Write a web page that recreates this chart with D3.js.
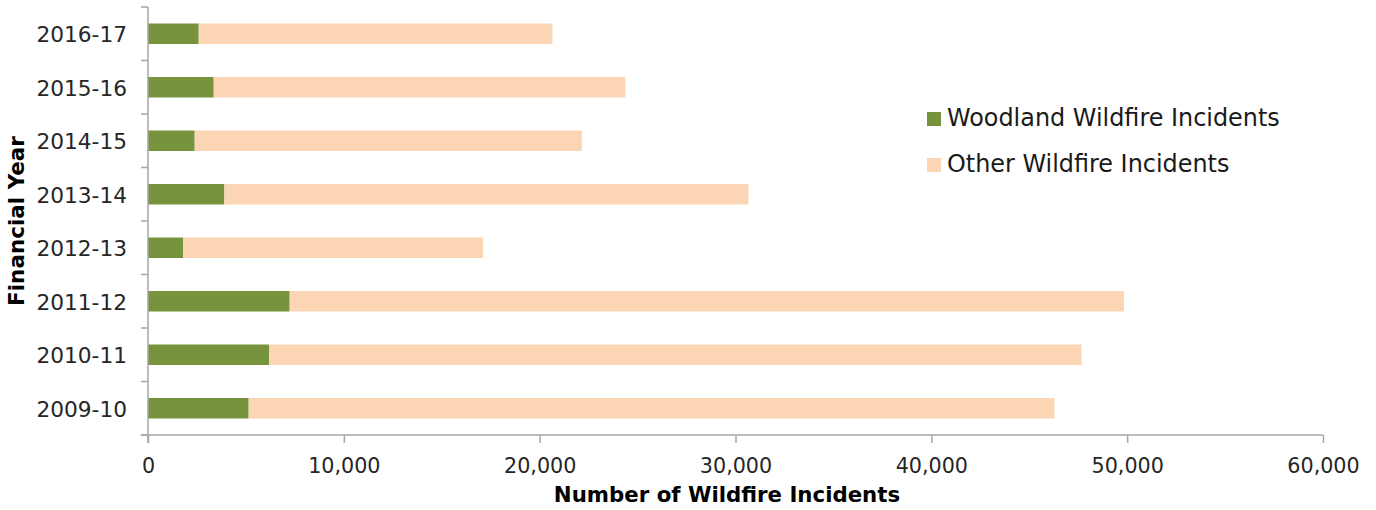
<!DOCTYPE html>
<style>
body { margin: 0; background: #fff; }
svg { font-family: "DejaVu Sans", Verdana, sans-serif; }
</style>
<svg width="1376" height="510"></svg>
<script src="https://d3js.org/d3.v7.min.js"></script>
<script>

// data
var years = ["2009-10", "2010-11", "2011-12", "2012-13", "2013-14", "2014-15", "2015-16", "2016-17"];
var woodland = [5140, 6180, 7235, 1800, 3900, 2385, 3355, 2590];
var other = [41150, 41490, 42600, 15310, 26760, 19770, 21020, 18060];
var seriesNames = ["Woodland Wildfire Incidents", "Other Wildfire Incidents"];
var xTicks = [0, 10000, 20000, 30000, 40000, 50000, 60000];

var colors = ["#77933c", "#fcd5b5"];
var axisColor = "#a6a6a6";

var svg = d3.select("svg");

var rows = years.map(function(y, i) {
  return { year: y, woodland: woodland[i], other: other[i] };
});

var x = d3.scaleLinear().domain([0, 60000]).range([148, 1323]);
var y = d3.scaleBand()
    .domain(years.slice().reverse())
    .range([7, 435])
    .paddingInner(0.617)
    .paddingOuter(0.3085);

var stack = d3.stack().keys(["woodland", "other"]);
var layers = stack(rows);

// bars
svg.append("g").selectAll("g")
    .data(layers)
  .enter().append("g")
    .attr("fill", function(d, i) { return colors[i]; })
  .selectAll("rect")
    .data(function(d) { return d; })
  .enter().append("rect")
    .attr("x", function(d) { return x(d[0]); })
    .attr("y", function(d) { return y(d.data.year); })
    .attr("width", function(d) { return x(d[1]) - x(d[0]); })
    .attr("height", y.bandwidth());

// x axis
var xAxis = svg.append("g")
    .attr("transform", "translate(0,435)")
    .call(d3.axisBottom(x).tickValues(xTicks).tickSize(8).tickSizeOuter(0).tickFormat(d3.format(",")));
xAxis.select(".domain").attr("stroke", axisColor).attr("stroke-width", 1.5)
    .attr("d", "M141,0H" + x(60000));
xAxis.selectAll(".tick line").attr("stroke", axisColor).attr("stroke-width", 1.5);
xAxis.selectAll(".tick text")
    .attr("y", 37.5).attr("dy", null)
    .attr("fill", "#262626")
    .style("font-size", "20.7px")
    .style("font-family", "DejaVu Sans, Verdana, sans-serif");

// y axis: ticks sit on band boundaries
var step = y.step();
var bounds = d3.range(years.length + 1).map(function(i) { return 7 + i * step; });
var yAxis = svg.append("g");
yAxis.append("line")
    .attr("x1", 148).attr("x2", 148)
    .attr("y1", 7).attr("y2", 443)
    .attr("stroke", axisColor).attr("stroke-width", 1.5);
yAxis.selectAll(".ytick")
    .data(bounds)
  .enter().append("line")
    .attr("x1", 141).attr("x2", 148)
    .attr("y1", function(d) { return d; })
    .attr("y2", function(d) { return d; })
    .attr("stroke", axisColor).attr("stroke-width", 1.5);
yAxis.selectAll("text")
    .data(years)
  .enter().append("text")
    .attr("x", 127)
    .attr("y", function(d) { return y(d) + y.bandwidth() / 2; })
    .attr("dy", "0.4em")
    .attr("text-anchor", "end")
    .attr("fill", "#262626")
    .style("font-size", "21.7px")
    .text(function(d) { return d; });

// axis titles
svg.append("text")
    .attr("x", 727)
    .attr("y", 501.5)
    .attr("text-anchor", "middle")
    .style("font-size", "21.3px")
    .style("font-weight", "bold")
    .text("Number of Wildfire Incidents");

svg.append("text")
    .attr("transform", "translate(23.5,221) rotate(-90)")
    .attr("text-anchor", "middle")
    .style("font-size", "21.5px")
    .style("font-weight", "bold")
    .text("Financial Year");

// legend
var legend = svg.append("g").selectAll("g")
    .data(seriesNames)
  .enter().append("g")
    .attr("transform", function(d, i) { return "translate(927," + (112 + i * 46) + ")"; });
legend.append("rect")
    .attr("width", 14)
    .attr("height", 14)
    .attr("fill", function(d, i) { return colors[i]; });
legend.append("text")
    .attr("x", 20)
    .attr("y", 14)
    .attr("fill", "#1a1a1a")
    .style("font-size", "23.9px")
    .text(function(d) { return d; });

</script>
